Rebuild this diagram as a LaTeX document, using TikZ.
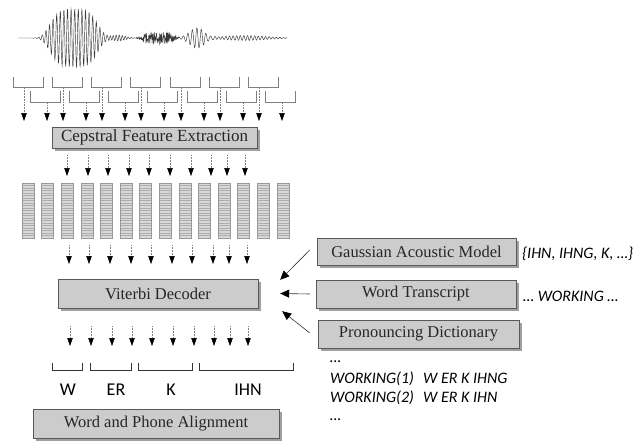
\documentclass[tikz,border=0pt]{standalone}
\usepackage{fontspec}
\setmainfont{Liberation Serif}
\newfontfamily\labelfont{Carlito}
\usetikzlibrary{arrows.meta,shadows}

\begin{document}
\begin{tikzpicture}[
    x=1pt, y=-1pt,
    stage/.style={rectangle, draw=gray!70!black, fill=gray!40, text=black!85, inner sep=0pt,
      drop shadow={shadow xshift=2.5pt, shadow yshift=-2.5pt, fill=gray!75, opacity=1},
      font=\fontsize{16.5}{18}\selectfont},
    bracket/.style={draw=gray, line width=0.5pt},
    flow/.style={densely dotted, gray, line width=0.5pt, -{Triangle[width=5.5pt,length=8pt,color=black]}},
    feed/.style={draw=black!80, line width=0.6pt, -{Triangle[width=8pt,length=9pt,color=black]}},
    phone/.style={font=\labelfont\fontsize{18}{20}\selectfont},
    note/.style={anchor=base west, inner sep=0pt, font=\labelfont\itshape\fontsize{16}{18}\selectfont}
    ]
    \useasboundingbox (0,0) rectangle (644,441);

    % speech waveform
    \draw[gray!45!black, line width=0.45pt] plot[domain=18:287, samples=1000]
      (\x, {38 + 29*exp(-min(((\x-74)/26)^4,12))*sin(100*mod(\x,3.6))
                + 3*exp(-min(((\x-118)/10)^2,12))*sin(120*mod(\x,3))
                + 6*exp(-min(((\x-158)/17)^4,12))*rand
                + 10*exp(-min(((\x-197)/11)^2,12))*sin(80*mod(\x,4.5))
                + 2.5*exp(-min(((\x-245)/30)^2,12))*sin(100*mod(\x,3.6))});

    % analysis windows
    \foreach \l in {13,52,91,130,170,209,248} {
      \draw[bracket] (\l,77) -- (\l,87) -- (\l+30,87) -- (\l+30,77);
      \draw[flow] (\l+11,87) -- (\l+11,121);
    }
    \foreach \l in {30,69,108,147,187,226,265} {
      \draw[bracket] (\l,91) -- (\l,102) -- (\l+30,102) -- (\l+30,91);
      \draw[flow] (\l+17,102) -- (\l+17,121);
    }

    \node[stage, minimum width=205pt, minimum height=21pt, font=\fontsize{17}{19}\selectfont]
      (cepstral) at (154.5,137.5) {Cepstral Feature Extraction};

    \foreach \x in {67,88,108,129,149,170,191,211,227,245}
      \draw[flow] (\x,155) -- (\x,176);

    % feature vectors
    \foreach \i in {0,...,13} {
      \pgfmathsetmacro\vx{22+19.6*\i}
      \fill[gray!30] (\vx,183) rectangle (\vx+12,238);
      \foreach \k in {1,...,21}
        \draw[gray!65, line width=0.45pt] (\vx,183+2.5*\k) -- (\vx+12,183+2.5*\k);
      \draw[gray!80, line width=0.5pt] (\vx,183) rectangle (\vx+12,238);
    }

    \foreach \x in {69,89,110,131,151,172,192,213,229,247}
      \draw[flow] (\x,245) -- (\x,264);

    \node[stage, minimum width=200pt, minimum height=29pt] (viterbi) at (158,293.5) {Viterbi Decoder};

    \node[stage, minimum width=199pt, minimum height=27pt] (gauss) at (416.5,252) {Gaussian Acoustic Model};
    \node[stage, minimum width=200pt, minimum height=28pt] (transcript) at (416,294) {Word Transcript};
    \node[stage, minimum width=201pt, minimum height=28pt] (dict) at (418.5,334) {Pronouncing Dictionary};

    \draw[feed] ([xshift=-7pt,yshift=2pt]gauss.west) -- ([xshift=22pt,yshift=-1pt]viterbi.north east);
    \draw[feed] ([xshift=-6pt]transcript.west) -- ([xshift=22pt]viterbi.east);
    \draw[feed] ([xshift=-8pt,yshift=1pt]dict.west) -- ([xshift=24pt,yshift=-3pt]viterbi.south east);

    \node[note] (phoneset) at (522,258) {\{IHN, IHNG, K, …\}};
    \node[note] (word) at (523,301) {… WORKING …};
    \node[note] (dl1) at (330,362) {…};
    \node[note] (dl2) at (330,383) {\makebox[93pt][l]{WORKING(1)}W ER K IHNG};
    \node[note] (dl3) at (330,402) {\makebox[93pt][l]{WORKING(2)}W ER K IHN};
    \node[note] (dl4) at (330,420) {…};

    \foreach \x in {70,91,112,132,152,173,194,214,230,248}
      \draw[flow] (\x,326) -- (\x,346);

    % phone segments
    \foreach \a/\b in {52/82,90/131,138/192,199/293}
      \draw[black!80, line width=0.7pt] (\a,363) -- (\a,370) -- (\b,370) -- (\b,363);
    \node[phone] (lw) at (68,390) {W};
    \node[phone] (ler) at (116,390) {ER};
    \node[phone] (lk) at (171,390) {K};
    \node[phone] (lihn) at (248,390) {IHN};

    \node[stage, minimum width=246pt, minimum height=29pt] (align) at (156,423.5) {Word and Phone Alignment};
\end{tikzpicture}
\end{document}
